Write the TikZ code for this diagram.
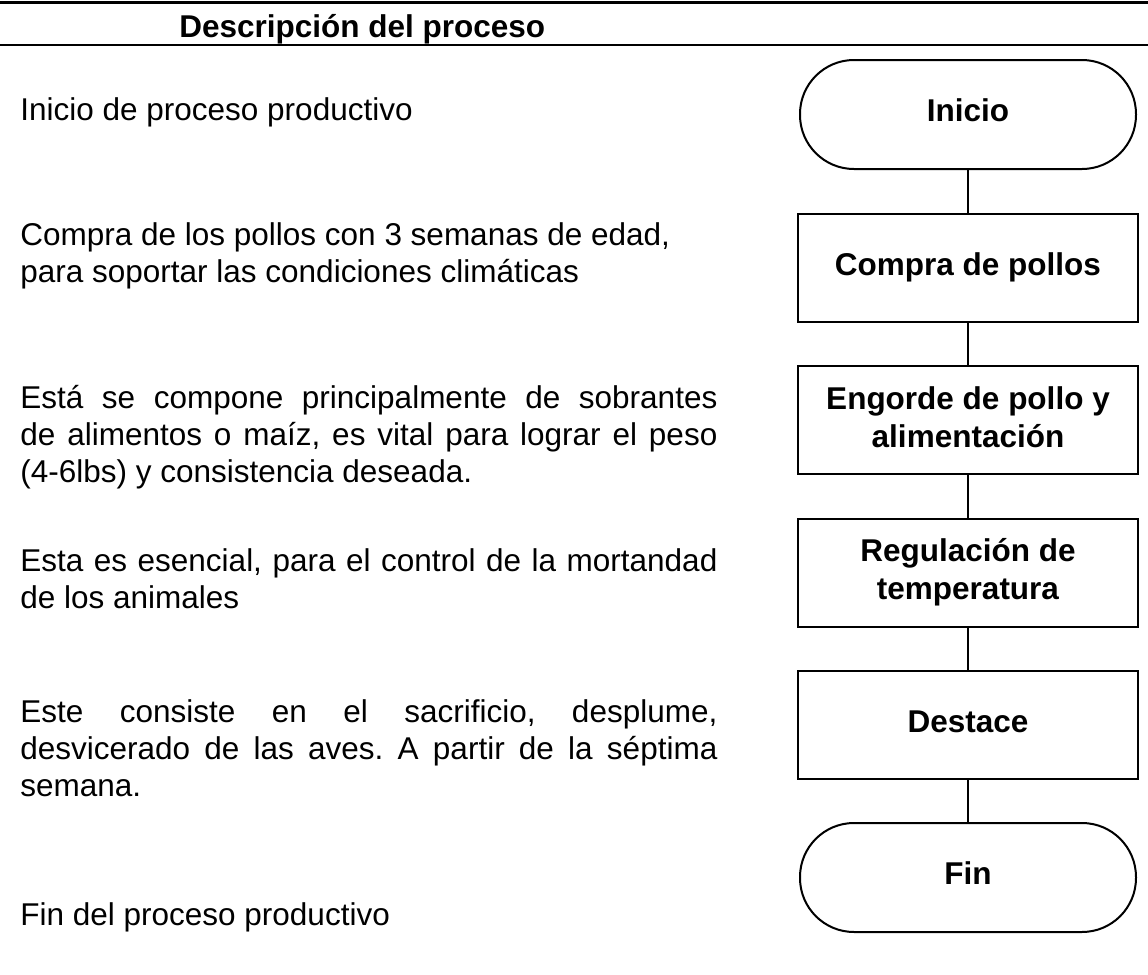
\documentclass[tikz,border=0pt]{standalone}
\usepackage{fontspec}
\setmainfont{Liberation Sans}
\frenchspacing

\begin{document}
\begin{tikzpicture}[x=0.5pt,y=-0.5pt,
    desc/.style={anchor=base west,inner sep=0pt,text width=348.5pt,align=justify,
      font=\fontsize{15.75}{18.5}\selectfont},
    proc/.style={draw,line width=1pt,minimum width=170pt,minimum height=54pt,
      align=center,text depth=3.3pt,font=\bfseries\fontsize{15.75}{19}\selectfont},
    term/.style={proc,minimum width=168pt,minimum height=54.5pt,rounded corners=27pt,
      text depth=4pt},
    link/.style={line width=1pt}]
    \useasboundingbox (0,0) rectangle (1148,975);

    % Header
    \draw[line width=1.5pt] (0,2) -- (1148,2);
    \node[anchor=base west,inner sep=0pt,font=\bfseries\fontsize{15.75}{18.5}\selectfont]
      (titulo) at (179,37) {Descripción del proceso};
    \draw[line width=1pt] (0,45) -- (1148,45);

    % Description column
    \node[desc] (d1) at (20,120) {Inicio de proceso productivo};
    \node[desc] (d2) at (20,245) {Compra de los pollos con 3 semanas de edad,\\
      para soportar las condiciones climáticas};
    \node[desc] (d3) at (20,408) {Está se compone principalmente de sobrantes\linebreak
      de alimentos o maíz, es vital para lograr el peso\linebreak
      (4-6lbs) y consistencia deseada.};
    \node[desc] (d4) at (20,571) {Esta es esencial, para el control de la mortandad\linebreak
      de los animales};
    \node[desc] (d5) at (20,722) {Este consiste en el sacrificio, desplume,\linebreak
      desvicerado de las aves. A partir de la séptima\linebreak
      semana.};
    \node[desc] (d6) at (20,925) {Fin del proceso productivo};

    % Flow chart
    \node[term] (inicio) at (968,114.5) {Inicio};
    \node[proc] (compra) at (968,267.5) {Compra de pollos};
    \node[proc] (engorde) at (968,420) {Engorde de pollo y\\alimentación};
    \node[proc] (regula) at (968,572.5) {Regulación de\\temperatura};
    \node[proc] (destace) at (968,725) {Destace};
    \node[term] (fin) at (968,877.5) {Fin};

    \draw[link] (inicio) -- (compra);
    \draw[link] (compra) -- (engorde);
    \draw[link] (engorde) -- (regula);
    \draw[link] (regula) -- (destace);
    \draw[link] (destace) -- (fin);
\end{tikzpicture}
\end{document}
